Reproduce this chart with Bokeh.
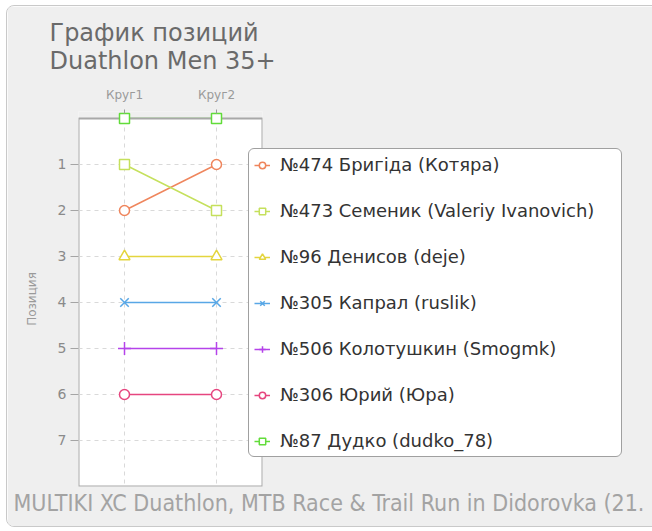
from bokeh.plotting import figure
from bokeh.models import FactorRange, Range1d, FixedTicker, BoxAnnotation, Title, Legend, LegendItem
from bokeh.embed import file_html
from bokeh.resources import INLINE

# ---- data ----
rounds = ["Круг1", "Круг2"]
y_ticks = [1, 2, 3, 4, 5, 6, 7]

names = [
    "№474 Бригіда (Котяра)",
    "№473 Семеник (Valeriy Ivanovich)",
    "№96 Денисов (deje)",
    "№305 Капрал (ruslik)",
    "№506 Колотушкин (Smogmk)",
    "№306 Юрий (Юра)",
    "№87 Дудко (dudko_78)",
]
pos_474 = [2, 1]
pos_473 = [1, 2]
pos_96 = [3, 3]
pos_305 = [4, 4]
pos_506 = [5, 5]
pos_306 = [6, 6]
pos_87 = [0, 0]
positions = [pos_474, pos_473, pos_96, pos_305, pos_506, pos_306, pos_87]

colors = ["#ef855c", "#c5e05c", "#e4d53e", "#58a7e6", "#b543ea", "#e6467f", "#62dc3a"]
markers = ["circle", "square", "triangle", "x", "cross", "circle", "square"]
marker_sizes = [10, 10, 11, 12, 13, 10, 10]

title_text = "График позиций\nDuathlon Men 35+"
caption = "MULTIKI XC Duathlon, MTB Race & Trail Run in Didorovka (21."
y_label = "Позиция"

FONT = "DejaVu Sans"
NARROW = "'DejaVu Sans Condensed', 'Liberation Sans Narrow', 'Roboto Condensed', Roboto"

p = figure(
    x_range=FactorRange(*rounds, range_padding=0),
    y_range=Range1d(8, -0.152),
    frame_width=184, frame_height=375,
    min_border_left=71, min_border_right=381, min_border_top=104, min_border_bottom=40,
    x_axis_location="above",
    output_backend="svg", toolbar_location=None,
    background_fill_color="#efefef", border_fill_color="#efefef",
    outline_line_color=None,
)
p.styles = {"border": "1px solid #c9c9c9", "border-radius": "8px", "overflow": "hidden",
            "margin-left": "6px", "margin-top": "5px"}

# axes
xa = p.xaxis[0]
xa.axis_line_color = None
xa.major_tick_in = 2
xa.major_tick_out = 2
xa.major_tick_line_color = "#9a9a9a"
xa.major_label_standoff = 8
xa.major_label_text_font = FONT
xa.major_label_text_font_size = "12px"
xa.major_label_text_color = "#9a9a9a"

ya = p.yaxis[0]
ya.ticker = FixedTicker(ticks=y_ticks)
ya.axis_line_color = None
ya.major_tick_in = 0
ya.major_tick_out = 8
ya.minor_tick_line_color = None
ya.major_tick_line_color = "#a5a5a5"
ya.major_label_standoff = 4
ya.major_label_text_font = FONT
ya.major_label_text_font_size = "14px"
ya.major_label_text_color = "#8a8a8a"
ya.axis_label = y_label
ya.axis_label_text_font = FONT
ya.axis_label_text_font_size = "12px"
ya.axis_label_text_font_style = "normal"
ya.axis_label_text_color = "#9a9a9a"
ya.axis_label_standoff = 16

p.ygrid.ticker = ya.ticker
for g in (p.xgrid[0], p.ygrid[0]):
    g.grid_line_color = "#d9d9d9"
    g.grid_line_dash = "4 4"
    g.grid_line_width = 1

renderers = []
for i in range(len(names)):
    lvl = "image" if positions[i] is pos_87 else "glyph"
    lr = p.line(rounds, positions[i], line_color=colors[i], line_width=1.5, level=lvl)
    renderers.append([lr])

box = BoxAnnotation(top=0, bottom=8, fill_color="white", fill_alpha=1,
                    line_color="#a8a8a8", line_width=2, line_alpha=1, level="image")
rl = list(p.renderers)
idx87 = rl.index(renderers[6][0])
rl.insert(idx87 + 1, box)
p.renderers = rl

for i in range(len(names)):
    sr = p.scatter(rounds, positions[i], marker=markers[i], size=marker_sizes[i],
                   line_color=colors[i], fill_color="white", line_width=1.5)
    renderers[i].append(sr)

items = [LegendItem(label=names[i], renderers=renderers[i]) for i in range(len(names))]
legend = Legend(
    items=items, location=(-14, 29), margin=0, padding=5, spacing=25,
    label_height=20, glyph_height=20, glyph_width=16, label_standoff=10, label_width=336,
    label_text_font=FONT, label_text_font_size="18px", label_text_color="#333333",
    border_line_color="#a0a0a0", border_line_width=1, border_line_alpha=1,
    background_fill_color="white", background_fill_alpha=1,
)
try:
    legend.border_radius = 6
except Exception:
    pass
p.add_layout(legend, "right")

p.add_layout(Title(text=title_text, align="left", offset=-29, standoff=20,
                   text_font=FONT, text_font_size="24px", text_font_style="normal",
                   text_color="#6a6a6a"), "above")
p.add_layout(Title(text=caption, align="left", offset=-65, standoff=2,
                   text_font=NARROW, text_font_size="23px",
                   text_font_style="normal", text_color="#a3a3a3"), "below")

open("out.html", "w").write(file_html(p, INLINE))
